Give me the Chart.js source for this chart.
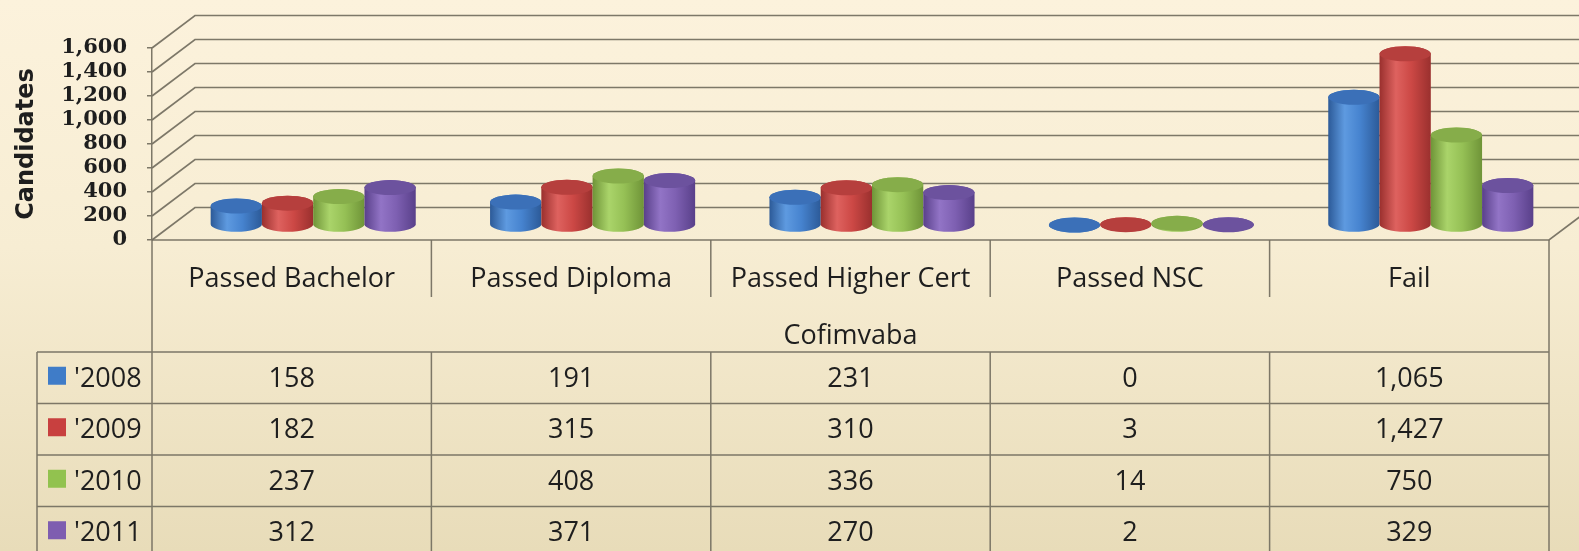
<!DOCTYPE html>
<html>
<head>
<meta charset="utf-8">
<script src="https://cdn.jsdelivr.net/npm/chart.js@4/dist/chart.umd.min.js"></script>
<style>
  html, body { margin: 0; padding: 0; overflow: hidden; background: #f4ead0; }
  #wrap { width: 1579px; height: 551px; position: relative; }
  canvas { display: block; }
</style>
</head>
<body>
<div id="wrap"><canvas id="c" width="1579" height="551"></canvas></div>
<script>
// ---- data ----
const categories = ['Passed Bachelor', 'Passed Diploma', 'Passed Higher Cert', 'Passed NSC', 'Fail'];
const groupName = 'Cofimvaba';
const seriesNames = ["'2008", "'2009", "'2010", "'2011"];
const values2008 = [158, 191, 231, 0, 1065];
const values2009 = [182, 315, 310, 3, 1427];
const values2010 = [237, 408, 336, 14, 750];
const values2011 = [312, 371, 270, 2, 329];
const yMin = 0, yMax = 1600, yStep = 200;
const axisTitle = 'Candidates';

// ---- styling ----
const seriesValues = [values2008, values2009, values2010, values2011];
const palettes = [
  { dark: '#2c5a98', light: '#5e9ae0', base: '#4683cf', top: '#3b70b8', key: '#3f7cc8' },
  { dark: '#9a302e', light: '#de625f', base: '#cc4845', top: '#b63f3d', key: '#c8403f' },
  { dark: '#6f9438', light: '#aad46a', base: '#95c055', top: '#86ad4a', key: '#92c24f' },
  { dark: '#59408a', light: '#9274c6', base: '#7e60b2', top: '#6c529e', key: '#7e5db0' }
];
const lineColor = 'rgba(118,113,98,0.95)';
const textColor = '#1e1e1e';
const tableFont = '27px "Open Sans"';
const DEPTH_X = 43, DEPTH_Y = -32.5;   // back wall offset
const BAR_X = 21.5, BAR_Y = -15;       // bars stand mid-depth
const ELL_RY = 7.5;

function shade(ctx, x0, x1, p) {
  const g = ctx.createLinearGradient(x0, 0, x1, 0);
  g.addColorStop(0, p.dark);
  g.addColorStop(0.32, p.light);
  g.addColorStop(0.62, p.base);
  g.addColorStop(1, p.dark);
  return g;
}

function cylinder(ctx, cx, yTop, yBase, w, p) {
  const rx = w / 2, x0 = cx - rx, x1 = cx + rx;
  ctx.beginPath();
  ctx.moveTo(x0, yTop);
  ctx.lineTo(x0, yBase);
  ctx.ellipse(cx, yBase, rx, ELL_RY, 0, Math.PI, 0, true);
  ctx.lineTo(x1, yTop);
  ctx.ellipse(cx, yTop, rx, ELL_RY, 0, 0, Math.PI, true);
  ctx.closePath();
  ctx.fillStyle = shade(ctx, x0, x1, p);
  ctx.fill();
  ctx.beginPath();
  ctx.ellipse(cx, yTop, rx, ELL_RY, 0, 0, Math.PI * 2);
  ctx.fillStyle = p.top;
  ctx.fill();
}

const backgroundPlugin = {
  id: 'paper',
  beforeDraw(chart) {
    const { ctx, width, height } = chart;
    ctx.save();
    const g = ctx.createLinearGradient(0, 0, 0, height);
    g.addColorStop(0, '#fcf2dc');
    g.addColorStop(0.45, '#f7edd3');
    g.addColorStop(1, '#e8dcb9');
    ctx.fillStyle = g;
    ctx.fillRect(0, 0, width, height);
    ctx.restore();
  }
};

const wallPlugin = {
  id: 'walls',
  beforeDatasetsDraw(chart) {
    const { ctx, chartArea: a, width } = chart;
    const y = chart.scales.y;
    ctx.save();
    ctx.strokeStyle = lineColor;
    ctx.lineWidth = 1.7;
    for (let v = yMin; v <= yMax; v += yStep) {
      const yf = y.getPixelForValue(v);
      ctx.beginPath();
      ctx.moveTo(a.left, yf);
      ctx.lineTo(a.left + DEPTH_X, yf + DEPTH_Y);
      ctx.lineTo(width + 2, yf + DEPTH_Y);
      ctx.stroke();
    }
    // floor front edge and right side
    ctx.beginPath();
    ctx.moveTo(a.left, a.bottom);
    ctx.lineTo(a.right, a.bottom);
    ctx.lineTo(a.right + DEPTH_X, a.bottom + DEPTH_Y);
    ctx.stroke();
    ctx.restore();
  },
  afterDatasetsDraw(chart) {
    const { ctx } = chart;
    ctx.save();
    const n = categories.length;
    for (let i = 0; i < n; i++) {
      chart.data.datasets.forEach((ds, di) => {
        const el = chart.getDatasetMeta(di).data[i];
        const p = el.getProps(['x', 'y', 'base', 'width'], true);
        cylinder(ctx, p.x + BAR_X, p.y + BAR_Y, p.base + BAR_Y, p.width, palettes[di]);
      });
    }
    ctx.restore();
  }
};

const tablePlugin = {
  id: 'dataTable',
  afterDraw(chart) {
    const { ctx, chartArea: a } = chart;
    const xs = chart.scales.x;
    const n = categories.length;
    const slot = xs.getPixelForValue(1) - xs.getPixelForValue(0);
    const edges = [];
    for (let i = 0; i <= n; i++) edges.push(xs.getPixelForValue(0) - slot / 2 + i * slot);
    const headBottom = 297, groupBottom = 352, rowH = 51.5, keyLeft = 37;
    const rowTops = seriesNames.map((_, r) => groupBottom + r * rowH);
    const bottom = chart.height + 2;

    ctx.save();
    ctx.strokeStyle = lineColor;
    ctx.lineWidth = 1.5;
    ctx.beginPath();
    ctx.moveTo(edges[0], a.bottom); ctx.lineTo(edges[0], bottom);
    ctx.moveTo(edges[n], a.bottom); ctx.lineTo(edges[n], bottom);
    for (let i = 1; i < n; i++) {
      ctx.moveTo(edges[i], a.bottom); ctx.lineTo(edges[i], headBottom);
      ctx.moveTo(edges[i], groupBottom); ctx.lineTo(edges[i], bottom);
    }
    ctx.moveTo(keyLeft, groupBottom); ctx.lineTo(keyLeft, bottom);
    rowTops.forEach(t => { ctx.moveTo(keyLeft, t); ctx.lineTo(edges[n], t); });
    ctx.stroke();

    ctx.fillStyle = textColor;
    ctx.font = tableFont;
    ctx.textAlign = 'center';
    ctx.textBaseline = 'alphabetic';
    categories.forEach((c, i) => ctx.fillText(c, (edges[i] + edges[i + 1]) / 2, 287));
    ctx.fillText(groupName, (edges[0] + edges[n]) / 2, 344);

    seriesNames.forEach((name, r) => {
      const mid = rowTops[r] + rowH / 2;
      const base = mid + 9;
      ctx.fillStyle = palettes[r].key;
      ctx.fillRect(48, mid - 11, 18, 18);
      ctx.fillStyle = textColor;
      ctx.textAlign = 'left';
      ctx.fillText(name, 74, base);
      ctx.textAlign = 'center';
      seriesValues[r].forEach((v, i) => {
        ctx.fillText(v.toLocaleString('en-US'), (edges[i] + edges[i + 1]) / 2, base);
      });
    });
    ctx.restore();
  }
};

new Chart(document.getElementById('c'), {
  type: 'bar',
  data: {
    labels: categories,
    datasets: seriesNames.map((name, i) => ({
      label: name,
      data: seriesValues[i],
      backgroundColor: 'rgba(0,0,0,0)',
      borderWidth: 0,
      categoryPercentage: 0.734,
      barPercentage: 1.0
    }))
  },
  options: {
    responsive: false,
    animation: false,
    devicePixelRatio: 1,
    layout: { padding: { left: 12, top: 48, right: 30, bottom: 311 } },
    plugins: { legend: { display: false }, tooltip: { enabled: false } },
    scales: {
      x: { display: false },
      y: {
        min: yMin, max: yMax,
        ticks: {
          stepSize: yStep, padding: 20, color: textColor, autoSkip: false,
          font: { family: 'DejaVu Serif', weight: 'bold', size: 21, lineHeight: 1 },
          callback: v => Number(v).toLocaleString('en-US')
        },
        grid: { drawOnChartArea: false, tickLength: 5, color: lineColor, lineWidth: 1.5 },
        border: { display: true, color: lineColor, width: 1.5 },
        title: {
          display: true, text: axisTitle, color: textColor, padding: 0,
          font: { family: 'DejaVu Sans', weight: 'bold', size: 24 }
        },
        afterFit(s) { s.width = 140; s.paddingTop = 0; s.paddingBottom = 0; }
      }
    }
  },
  plugins: [backgroundPlugin, wallPlugin, tablePlugin]
});
</script>
</body>
</html>
